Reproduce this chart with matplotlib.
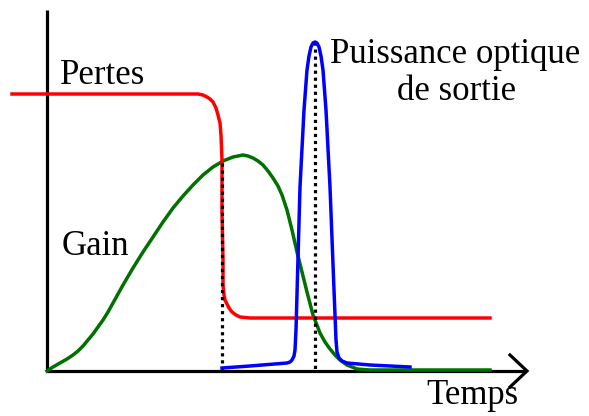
import matplotlib.pyplot as plt
import numpy as np

plt.rcParams['font.family'] = 'serif'
plt.rcParams['font.serif'] = ['Liberation Serif', 'Times New Roman', 'DejaVu Serif']

# curves, in pixel coordinates (y grows downward)
pertes_x = [12, 150, 198, 203, 207, 210, 213, 216, 218, 220, 221, 222, 222, 223, 223, 224, 225, 227, 229,
            232, 236, 240, 250, 490]
pertes_y = [94, 94, 94, 95, 97, 99, 102, 108, 115, 123, 135, 160, 213, 260, 285, 295, 300, 304, 308,
            312, 315, 317, 318, 318]

gain_x = [47, 53, 60, 67, 73, 78, 83, 88, 93, 98, 103, 108, 113, 123, 133, 143, 153, 163, 173, 183, 193,
          203, 213, 223, 233, 238, 243, 248, 253, 258, 263, 268, 273, 278, 282, 287, 292, 297, 302, 307,
          313, 320, 325, 330, 335, 340, 347, 357, 370, 490]
gain_y = [371, 367, 363, 359, 355, 351, 346, 340, 334, 327, 320, 312, 303, 285, 268, 252, 237, 222, 208,
          196, 185, 175, 167, 161, 157, 156, 155, 156, 158, 161, 165, 171, 178, 186, 195, 210, 230, 252, 272,
          292, 315, 333, 342, 349, 355, 360, 365, 369, 370, 370]

puissance_x = [222, 250, 287, 290, 292, 294, 295, 296, 300, 304, 307, 309, 311, 313, 315, 317, 319, 321,
               323, 326, 330, 334, 336, 337, 339, 342, 347, 370, 410]
puissance_y = [368, 366, 363, 362, 360, 356, 350, 330, 187, 110, 70, 56, 47, 43, 42, 43, 47, 56,
               70, 110, 187, 290, 340, 352, 358, 361, 363, 365, 367]

# vertical dotted markers: (x, top y)
repere_x = [222, 315]
repere_top = [163, 42]

fig = plt.figure(figsize=(5.89, 4.16), dpi=100)
ax = fig.add_axes([0, 0, 1, 1])
ax.set_xlim(0, 589)
ax.set_ylim(416, 0)
ax.axis('off')

lw = 2.5
# axes with arrow
ax.plot([47, 47], [10, 371], color='black', lw=2.3, solid_capstyle='butt')
ax.plot([46, 526], [371, 371], color='black', lw=2.3, solid_capstyle='butt')
ax.plot([510, 527, 510], [355, 371, 387], color='black', lw=2.3, solid_joinstyle='miter')

for x, top in zip(repere_x, repere_top):
    ax.plot([x, x], [top, 370], color='black', lw=2.3, dashes=(1, 1.2), dash_capstyle='butt', zorder=3)

ax.plot(gain_x, gain_y, color='#007000', lw=lw, solid_joinstyle='round', zorder=2)
ax.plot(pertes_x, pertes_y, color='#ff0000', lw=lw, solid_joinstyle='round', zorder=2)
ax.plot(puissance_x, puissance_y, color='#0000ff', lw=lw, solid_joinstyle='round', zorder=4)

font = dict(fontsize=25, color='black', va='baseline')
ax.text(60, 84, 'Pertes', ha='left', **font)
ax.text(62, 255, 'Gain', ha='left', **font)
ax.text(330, 63, 'Puissance optique', ha='left', **font)
ax.text(457, 100, 'de sortie', ha='center', **font)
ax.text(426, 404, 'Temps', ha='left', **font)

fig.savefig('out.png', dpi=100)
